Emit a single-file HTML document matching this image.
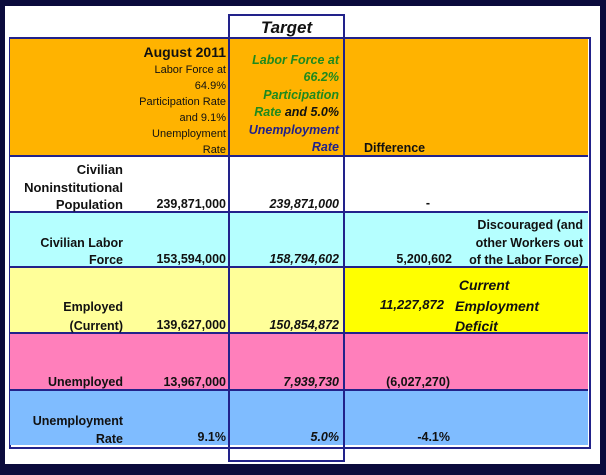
<!DOCTYPE html>
<html><head><meta charset="utf-8"><style>
body{margin:0;width:606px;height:475px;background:#0b0b3c;position:relative;overflow:hidden;font-family:"Liberation Sans",Arial,sans-serif;font-weight:bold;font-size:12.5px;color:#111}
.p{position:absolute}
.row{position:absolute;left:10px;width:578px;border-bottom:2px solid #22228a}
.t{position:absolute;text-align:right;line-height:15px}
.i{font-style:italic}
</style></head><body>
<div class="p" style="left:5px;top:6px;width:595px;height:458px;background:#fff"></div>
<div class="p" style="left:9px;top:37px;width:578px;height:408px;border:2px solid #22228a"></div>
<div class="row" style="top:39px;height:116px;background:#ffb300"></div>
<div class="row" style="top:157px;height:54px;background:#fff"></div>
<div class="row" style="top:213px;height:53px;background:#b5ffff"></div>
<div class="row" style="top:268px;height:64px;background:#ffff99"></div>
<div class="p" style="left:344px;top:268px;width:244px;height:64px;background:#ffff00"></div>
<div class="row" style="top:334px;height:55px;background:#ff7fbb"></div>
<div class="row" style="top:391px;height:54px;background:#7fbcff;border-bottom:none"></div>
<div class="p" style="left:228px;top:14px;width:113px;height:444px;border:2px solid #22228a"></div>
<div class="p" style="left:230px;top:18px;width:113px;text-align:center;font-style:italic;font-size:17px">Target</div>

<div class="t" style="left:110px;width:116px;top:43px;font-size:11px;font-weight:normal;line-height:16px"><span style="font-weight:bold;font-size:14px;line-height:18px">August 2011</span><br>Labor Force at<br>64.9%<br>Participation Rate<br>and 9.1%<br>Unemployment<br>Rate</div>
<div class="t i" style="left:230px;width:109px;top:52px;font-size:12.5px;line-height:17.4px;color:#1e8a1e">Labor Force at<br>66.2%<br>Participation<br>Rate <span style="color:#111">and 5.0%</span><br><span style="color:#22228a">Unemployment<br>Rate</span></div>
<div class="t" style="left:364px;top:141px;text-align:left">Difference</div>

<div class="t" style="left:10px;width:113px;top:161px;font-size:13px;line-height:17.5px">Civilian<br>Noninstitutional<br>Population</div>
<div class="t" style="left:130px;width:96px;top:197px">239,871,000</div>
<div class="t i" style="left:230px;width:109px;top:197px">239,871,000</div>
<div class="t" style="left:380px;width:50px;top:196px">-</div>

<div class="t" style="left:10px;width:113px;top:235px;line-height:17px">Civilian Labor<br>Force</div>
<div class="t" style="left:130px;width:96px;top:252px">153,594,000</div>
<div class="t i" style="left:230px;width:109px;top:252px">158,794,602</div>
<div class="t" style="left:360px;width:92px;top:252px">5,200,602</div>
<div class="t" style="left:452px;width:131px;top:217px;line-height:17.5px">Discouraged (and<br>other Workers out<br>of the Labor Force)</div>

<div class="t" style="left:10px;width:113px;top:298px;line-height:19px">Employed<br>(Current)</div>
<div class="t" style="left:130px;width:96px;top:318px">139,627,000</div>
<div class="t i" style="left:230px;width:109px;top:318px">150,854,872</div>
<div class="t i" style="left:350px;width:94px;top:297px;font-size:13px">11,227,872</div>
<div class="t i" style="left:455px;top:275px;text-align:left;font-size:14px;line-height:20.5px">&nbsp;Current<br>Employment<br>Deficit</div>

<div class="t" style="left:10px;width:113px;top:375px">Unemployed</div>
<div class="t" style="left:130px;width:96px;top:375px">13,967,000</div>
<div class="t i" style="left:230px;width:109px;top:375px">7,939,730</div>
<div class="t" style="left:360px;width:90px;top:375px">(6,027,270)</div>

<div class="t" style="left:10px;width:113px;top:412px;line-height:18px">Unemployment<br>Rate</div>
<div class="t" style="left:130px;width:96px;top:430px">9.1%</div>
<div class="t i" style="left:230px;width:109px;top:430px">5.0%</div>
<div class="t" style="left:380px;width:70px;top:430px">-4.1%</div>
</body></html>
